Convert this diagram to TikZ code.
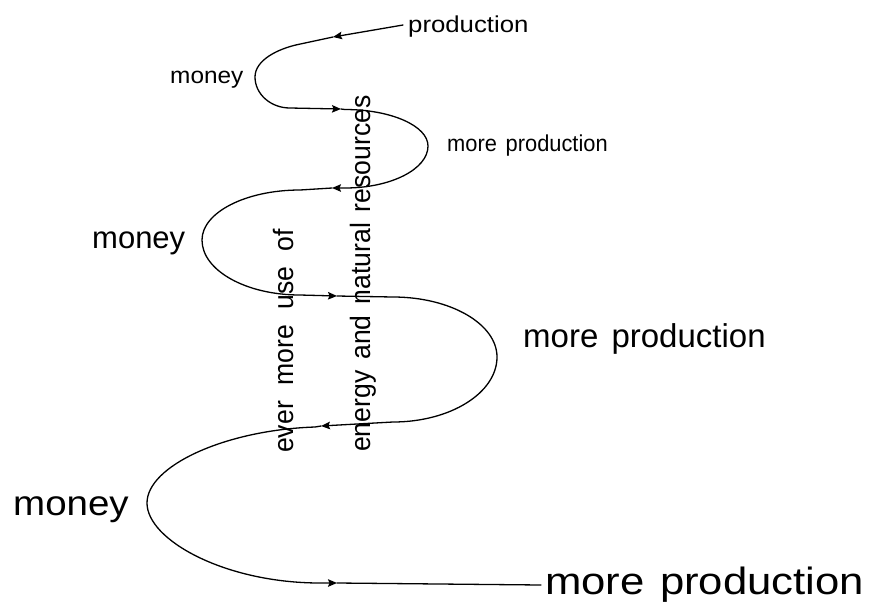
\documentclass[tikz,border=0pt]{standalone}
\usepackage{fontspec}
\setmainfont{Liberation Sans}
\usepackage{graphicx}
\usetikzlibrary{arrows.meta}
% label text: size in pt, horizontal stretch, text
\newcommand\lbltext[3]{\scalebox{#2}[1]{\fontsize{#1}{#1}\selectfont #3}}
\begin{document}
\begin{tikzpicture}[x=1pt,y=-1pt,
  flow/.style={line width=1.3pt, black, line cap=round},
  midtip/.style={-{Stealth[length=9pt,width=7.5pt,inset=1.5pt]}},
  lbl/.style={inner sep=0pt, anchor=base west},
  vlbl/.style={inner sep=0pt, anchor=base west, rotate=90}]
\useasboundingbox (0,0) rectangle (879,606);

% points along the spiral (arrow positions and loop extremes)
\coordinate (s0) at (403,25);
\coordinate (a1) at (333,37);
\coordinate (l1t) at (298,44.5);
\coordinate (l1x) at (255,77);
\coordinate (l1b) at (290,108);
\coordinate (a2) at (341,109);
\coordinate (r1t) at (345,109.5);
\coordinate (r1x) at (428,146);
\coordinate (r1b) at (345,188);
\coordinate (a3) at (332,188);
\coordinate (l2t) at (300,190);
\coordinate (l2x) at (202,240);
\coordinate (l2b) at (300,295);
\coordinate (a4) at (337,296);
\coordinate (r2t) at (393,297);
\coordinate (r2x) at (497,357);
\coordinate (r2b) at (393,422);
\coordinate (a5) at (321,426);
\coordinate (l3t) at (315,427);
\coordinate (l3x) at (147,503);
\coordinate (l3b) at (320,583);
\coordinate (a6) at (337,583);
\coordinate (e0) at (541,585);

% spiral, drawn in pieces so that each piece ends in an arrow
\draw[flow,midtip] (s0) -- (a1);
\draw[flow,midtip] (a1) -- (l1t)
  .. controls (278,48.8) and (255,60) .. (l1x)
  .. controls (255,94.1) and (270.7,108) .. (l1b) -- (a2);
\draw[flow,midtip] (a2) -- (r1t)
  .. controls (390.8,109.5) and (428,125.8) .. (r1x)
  .. controls (428,169.2) and (390.8,188) .. (r1b) -- (a3);
\draw[flow,midtip] (a3) -- (l2t)
  .. controls (245.9,190) and (202,212.4) .. (l2x)
  .. controls (202,270.4) and (245.9,295) .. (l2b) -- (a4);
\draw[flow,midtip] (a4) -- (r2t)
  .. controls (450.4,297) and (497,323.9) .. (r2x)
  .. controls (497,392.9) and (450.4,422) .. (r2b) -- (a5);
\draw[flow,midtip] (a5) -- (l3t)
  .. controls (225,430) and (147,466) .. (l3x)
  .. controls (147,540) and (225,583) .. (l3b) -- (a6);
\draw[flow] (a6) -- (e0);

% labels
\node[lbl] (prod0) at (408,32) {\lbltext{23}{1.12}{production}};
\node[lbl] (money1) at (170,83) {\lbltext{23}{1.06}{money}};
\node[lbl] (prod1) at (447,151) {\lbltext{23}{0.95}{more\hspace{0.4em}production}};
\node[lbl] (money2) at (92,248) {\lbltext{31}{1.0}{money}};
\node[lbl] (prod2) at (523,347) {\lbltext{33}{1.0}{more\hspace{0.4em}production}};
\node[lbl] (money3) at (13,515) {\lbltext{35}{1.1}{money}};
\node[lbl] (prod3) at (545,594) {\lbltext{38}{1.15}{more\hspace{0.35em}production}};

% vertical labels
\node[vlbl] (use) at (293,453) {\lbltext{28}{0.95}{ever\hspace{0.58em}more\hspace{0.58em}use\hspace{0.58em}of}};
\node[vlbl] (res) at (370,452) {\lbltext{28}{0.95}{energy\hspace{0.41em}and\hspace{0.41em}natural\hspace{0.41em}resources}};
\end{tikzpicture}
\end{document}
